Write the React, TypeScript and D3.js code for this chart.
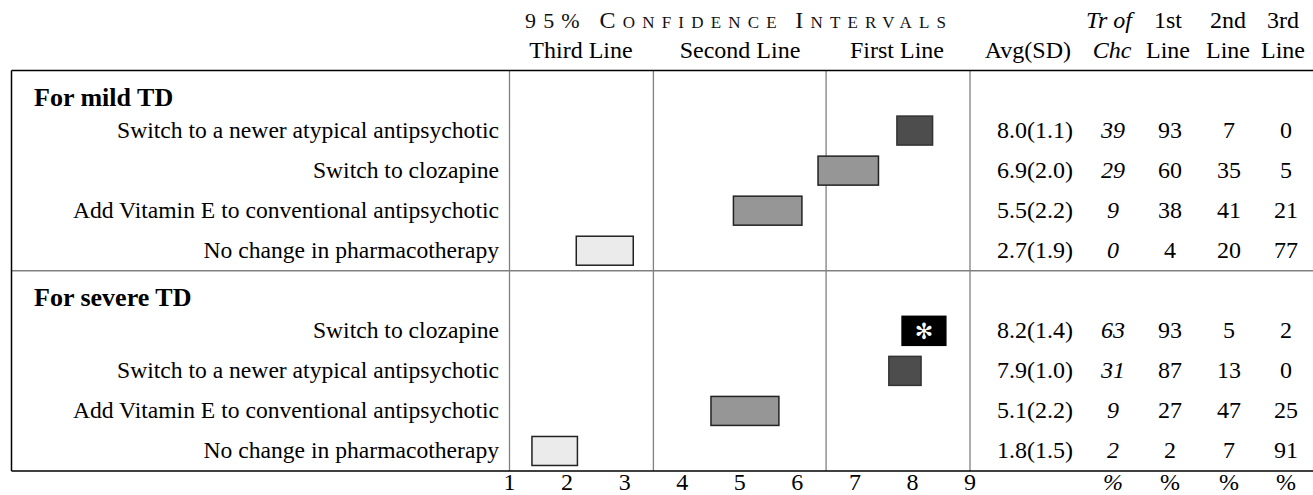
import React from "react";
import * as d3 from "d3";

const groups = ["For mild TD", "For severe TD"];
const treatments = [
  ["Switch to a newer atypical antipsychotic", "Switch to clozapine", "Add Vitamin E to conventional antipsychotic", "No change in pharmacotherapy"],
  ["Switch to clozapine", "Switch to a newer atypical antipsychotic", "Add Vitamin E to conventional antipsychotic", "No change in pharmacotherapy"],
];
const ciLow = [[7.73, 6.36, 4.89, 2.16], [7.82, 7.59, 4.5, 1.39]];
const ciHigh = [[8.35, 7.41, 6.08, 3.15], [8.58, 8.15, 5.68, 2.18]];
const rating = [["dark", "mid", "mid", "light"], ["star", "dark", "mid", "light"]];
const avgSD = [["8.0(1.1)", "6.9(2.0)", "5.5(2.2)", "2.7(1.9)"], ["8.2(1.4)", "7.9(1.0)", "5.1(2.2)", "1.8(1.5)"]];
const trOfChc = [[39, 29, 9, 0], [63, 31, 9, 2]];
const firstLine = [[93, 60, 38, 4], [93, 87, 27, 2]];
const secondLine = [[7, 35, 41, 20], [5, 13, 47, 7]];
const thirdLine = [[0, 5, 21, 77], [2, 0, 25, 91]];
const xTicks = [1, 2, 3, 4, 5, 6, 7, 8, 9];
const zoneBounds = [1, 3.5, 6.5, 9];
const zoneLabels = ["Third Line", "Second Line", "First Line"];

const W = 1313;
const H = 495;
const FONT = "'Liberation Serif', 'Times New Roman', serif";

const fills: Record<string, string> = { dark: "#4d4d4d", mid: "#969696", light: "#ebebeb", star: "#000000" };
const strokes: Record<string, string> = { dark: "#333333", mid: "#222222", light: "#222222", star: "#000000" };

export default function App() {
  const x = d3.scaleLinear().domain([1, 9]).range([509.5, 970]);
  const rowIds = d3.range(10);
  const y = d3.scaleBand<number>().domain(rowIds).range([70.5, 471]).padding(0);
  const step = y.step();
  const barH = 29;
  const left = 11.5;
  const top = 70.5;
  const bottom = 471;

  const colAvg = 1073;
  const colTr = 1113;
  const col1 = 1170;
  const col2 = 1229;
  const col3 = 1286;

  const fs = 24;
  const lfs = 23.6;

  const rows: React.ReactNode[] = [];
  groups.forEach((g, gi) => {
    const base = gi * 5;
    rows.push(
      <text key={`g${gi}`} x={34} y={(y(base) as number) + 35} fontSize={26} fontWeight="bold" fontFamily={FONT}>
        {g}
      </text>
    );
    treatments[gi].forEach((t, i) => {
      const cy = (y(base + 1 + i) as number) + step / 2;
      const ty = cy + 7.5;
      const kind = rating[gi][i];
      rows.push(
        <g key={`r${gi}-${i}`}>
          <text x={499} y={ty} textAnchor="end" fontSize={lfs} fontFamily={FONT}>{t}</text>
          <rect
            x={x(ciLow[gi][i])}
            y={cy - barH / 2}
            width={x(ciHigh[gi][i]) - x(ciLow[gi][i])}
            height={barH}
            fill={fills[kind]}
            stroke={strokes[kind]}
            strokeWidth={1.5}
          />
          {kind === "star" && (
            <text
              x={(x(ciLow[gi][i]) + x(ciHigh[gi][i])) / 2}
              y={cy + 8}
              textAnchor="middle"
              fill="#fff"
              fontSize={22}
              fontFamily="'DejaVu Sans', sans-serif"
            >
              ✻
            </text>
          )}
          <text x={colAvg} y={ty} textAnchor="end" fontSize={fs} fontFamily={FONT}>{avgSD[gi][i]}</text>
          <text x={colTr} y={ty} textAnchor="middle" fontSize={fs} fontStyle="italic" fontFamily={FONT}>{trOfChc[gi][i]}</text>
          <text x={col1} y={ty} textAnchor="middle" fontSize={fs} fontFamily={FONT}>{firstLine[gi][i]}</text>
          <text x={col2} y={ty} textAnchor="middle" fontSize={fs} fontFamily={FONT}>{secondLine[gi][i]}</text>
          <text x={col3} y={ty} textAnchor="middle" fontSize={fs} fontFamily={FONT}>{thirdLine[gi][i]}</text>
        </g>
      );
    });
  });

  const sep = y(5) as number;

  return (
    <svg width={W} height={H} style={{ position: "absolute", left: 0, top: 0, background: "#fff" }}>
      <text x={525} y={28} fontFamily={FONT} fill="#111" textLength={421} lengthAdjust="spacing">
        <tspan fontSize={22}>95% </tspan>
        <tspan fontSize={24}>C</tspan>
        <tspan fontSize={17}>ONFIDENCE </tspan>
        <tspan fontSize={24}>I</tspan>
        <tspan fontSize={17}>NTERVALS</tspan>
      </text>
      {zoneLabels.map((lab, i) => (
        <text key={lab} x={[581, 740, 897][i]} y={58} textAnchor="middle" fontSize={fs} fontFamily={FONT}>{lab}</text>
      ))}
      <text x={1071} y={58} textAnchor="end" fontSize={fs} fontFamily={FONT}>Avg(SD)</text>
      <text x={1109} y={28} textAnchor="middle" fontSize={fs} fontStyle="italic" fontFamily={FONT}>Tr of</text>
      <text x={1112} y={58} textAnchor="middle" fontSize={fs} fontStyle="italic" fontFamily={FONT}>Chc</text>
      {[["1st", col1 - 2], ["2nd", col2 - 1], ["3rd", col3 - 3]].map(([a, cx]) => (
        <g key={a as string}>
          <text x={cx as number} y={28} textAnchor="middle" fontSize={fs} fontFamily={FONT}>{a}</text>
          <text x={cx as number} y={58} textAnchor="middle" fontSize={fs} fontFamily={FONT}>Line</text>
        </g>
      ))}

      {zoneBounds.map((b) => (
        <line key={b} x1={x(b)} x2={x(b)} y1={top} y2={bottom} stroke="#808080" strokeWidth={1.3} />
      ))}
      <line x1={left} x2={W} y1={sep} y2={sep} stroke="#808080" strokeWidth={1.3} />
      <line x1={left} x2={left} y1={top} y2={bottom} stroke="#000" strokeWidth={1.5} />
      <line x1={left} x2={W} y1={top} y2={top} stroke="#000" strokeWidth={1.5} />
      <line x1={left} x2={W} y1={bottom} y2={bottom} stroke="#000" strokeWidth={1.5} />

      {rows}

      {xTicks.map((t) => (
        <text key={t} x={x(t)} y={490} textAnchor="middle" fontSize={fs} fontFamily={FONT}>{t}</text>
      ))}
      <text x={colTr} y={490} textAnchor="middle" fontSize={fs} fontStyle="italic" fontFamily={FONT}>%</text>
      {[col1, col2, col3].map((c) => (
        <text key={c} x={c} y={490} textAnchor="middle" fontSize={fs} fontFamily={FONT}>%</text>
      ))}
    </svg>
  );
}
